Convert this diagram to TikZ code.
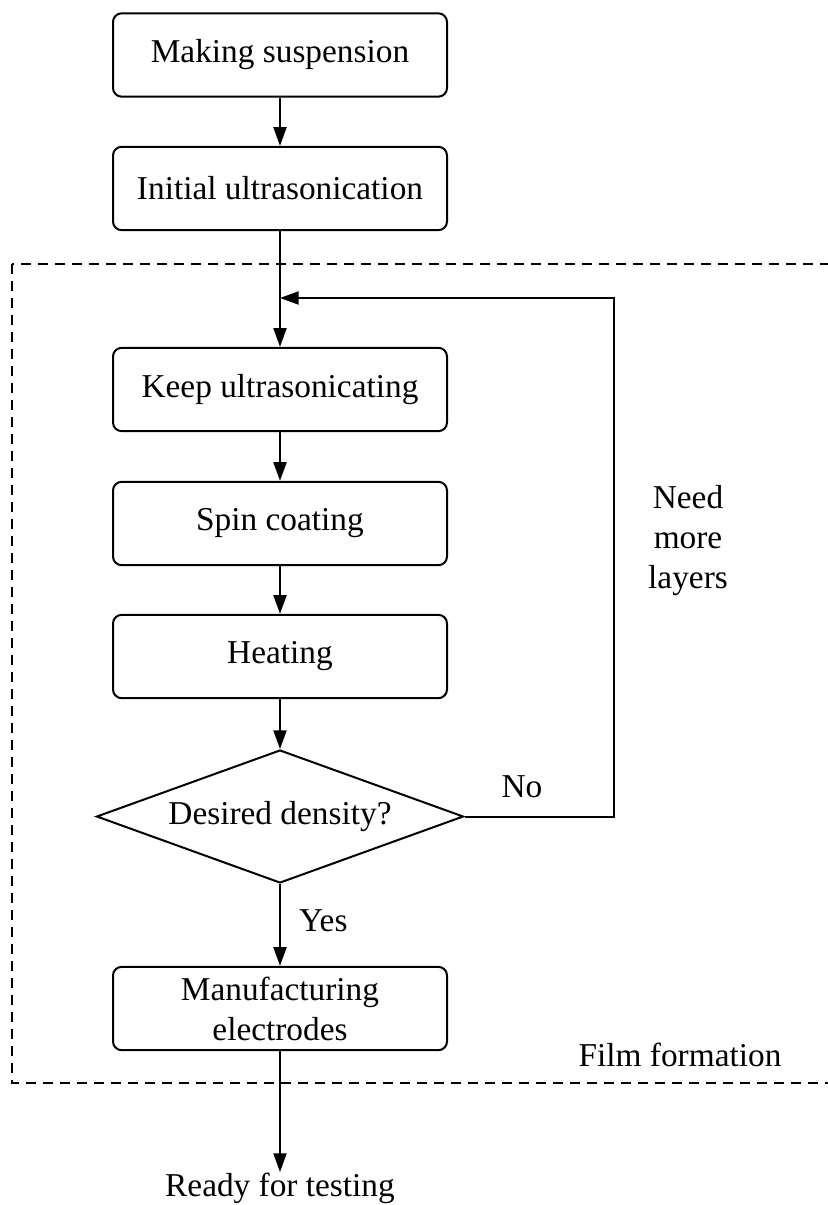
\documentclass[tikz,border=0pt]{standalone}
\usepackage{fontspec}
\setmainfont{Liberation Serif}
\usetikzlibrary{shapes.geometric,arrows.meta}
\begin{document}
\begin{tikzpicture}[x=0.3pt,y=-0.3pt,
  line width=0.6pt,
  font=\fontsize{10}{12}\selectfont,
  >={Triangle[length=5.6pt,width=3.9pt]},
  stepbox/.style={draw,rounded corners=2.6pt,minimum width=100.2pt,minimum height=25pt,align=center,inner sep=1pt},
  decision/.style={draw,diamond,aspect=2.76,minimum width=110.1pt,minimum height=39.9pt,inner sep=1pt},
  plain/.style={inner sep=0pt,align=center}]
\useasboundingbox (0,0) rectangle (827,1205);

% process steps
\node[stepbox] (susp)  at (280,55)    {Making suspension};
\node[stepbox] (init)  at (280,188.5) {Initial ultrasonication};
\node[stepbox] (keep)  at (280,389.5) {Keep ultrasonicating};
\node[stepbox] (spin)  at (280,523.5) {Spin coating};
\node[stepbox] (heat)  at (280,656.5) {Heating};
\node[decision] (dens) at (280,816.5) {Desired density?};
\node[stepbox] (elec)  at (280,1008.5) {Manufacturing\\electrodes};
\node[plain,anchor=north] (ready) at (280,1172) {Ready for testing};

% film formation frame
\draw[dashed,dash pattern=on 3pt off 2.1pt,line width=0.5pt] (12,264) rectangle (860,1083);
\node[plain] (film) at (680,1055) {Film formation};

% loop-back path
\coordinate (merge) at (280,298);
\coordinate (turn) at (614,298);
\coordinate (side) at (614,816.5);

% connectors
\draw[->] (susp) -- (init);
\draw[->] (init) -- (keep);
\draw[->] (keep) -- (spin);
\draw[->] (spin) -- (heat);
\draw[->] (heat) -- (dens);
\draw[->] (dens) -- (elec);
\draw[->] (elec) -- (ready);
\draw[->] (dens.east) -- (side) -- (turn) -- (merge);

% branch labels
\node[plain] (no)  at (522,787) {No};
\node[plain,anchor=west] (yes) at (298,921) {Yes};
\node[plain] (more) at (688,541) {Need\\more\\layers};
\end{tikzpicture}
\end{document}
